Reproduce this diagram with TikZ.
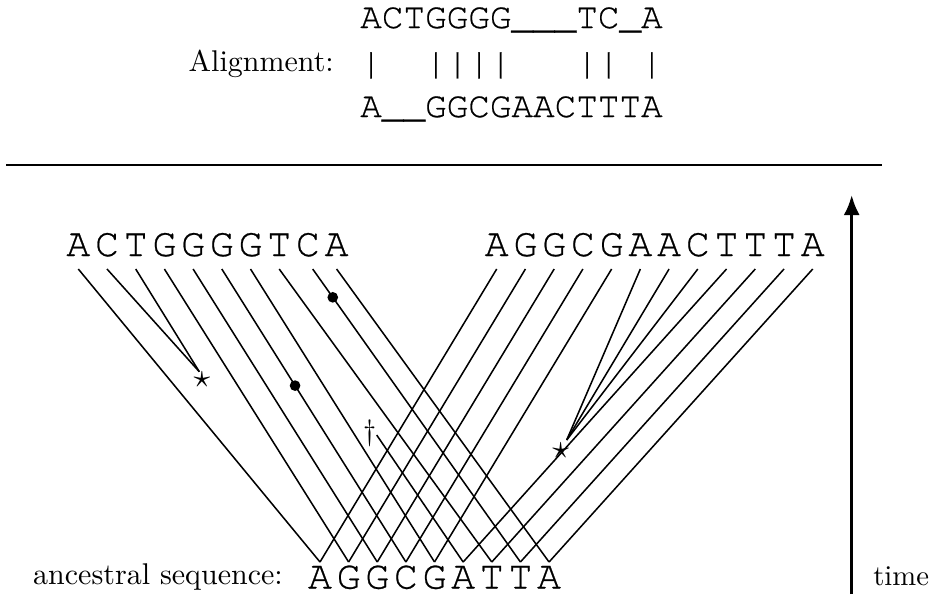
\documentclass[tikz,border=0pt]{standalone}
\usepackage{fontspec}
\usepackage{graphicx}
\newfontfamily\cur[FakeBold=0.6]{TeX Gyre Cursor}
\usetikzlibrary{arrows.meta}
\begin{document}
\begin{tikzpicture}[x=0.75pt,y=-0.75pt,
  seq/.style={inner sep=0pt,anchor=base,font=\cur\fontsize{30}{33}\selectfont},
  aln/.style={inner sep=0pt,anchor=base west,font=\cur\fontsize{27}{30}\selectfont},
  rm/.style={inner sep=0pt},
  lin/.style={line width=1.15pt},
  dot/.style={circle,fill=black,inner sep=0pt,minimum size=8pt}]
\useasboundingbox (0,0) rectangle (931,594);

% alignment block
\node[aln] (al1) at (360,28) {ACTGGGG\_\_\_TC\_A};
\node[aln] (al2) at (360,74) {|\hphantom{A}\hphantom{A}||||\hphantom{A}\hphantom{A}\hphantom{A}||\hphantom{A}|};
\node[aln] (al3) at (360,117) {A\_\_GGCGAACTTTA};
\node[rm,anchor=base east] (alab) at (334,71) {\scalebox{2.25}{Alignment:}};

% separating rule
\coordinate (r1) at (6,165);
\coordinate (r2) at (882,165);
\draw[lin] (r1) -- (r2);

% left descendant sequence
\foreach \c [count=\i] in {A,C,T,G,G,G,G,T,C,A}
  \node[seq] (L\i) at ({78.3+28.7*(\i-1)},256) {\c};
\foreach \x [count=\i] in {78.3,107,135.7,164.4,193.1,221.8,250.5,279.2,312.7,336.6}
  \coordinate (lt\i) at (\x,269);

% right descendant sequence
\foreach \c [count=\i] in {A,G,G,C,G,A,A,C,T,T,T,A}
  \node[seq] (R\i) at ({496.7+28.73*(\i-1)},256) {\c};
\foreach \i in {1,...,12}
  \coordinate (rt\i) at ({496.7+28.73*(\i-1)},269);

% ancestral sequence
\foreach \c [count=\i] in {A,G,G,C,G,A,T,T,A}
  \node[seq] (N\i) at ({320+28.63*(\i-1)},588.5) {\c};
\foreach \i in {1,...,9}
  \coordinate (ap\i) at ({320+28.63*(\i-1)},562);

\node[rm,anchor=base east] (anc) at (283,584) {\scalebox{2.25}{ancestral sequence:}};

% events
\coordinate (sl) at (199.3,371.7);
\node[rm] (starL) at (202,380) {\scalebox{2.5}{$\star$}};
\coordinate (sr) at (566.7,440);
\node[rm] (starR) at (560.7,450.7) {\scalebox{2.5}{$\star$}};
\coordinate (dl) at (376.7,435);
\node[rm] (dag) at (370,433.3) {\scalebox{2.2}{$\dagger$}};

% left lineages
\draw[lin] (lt1) -- (ap1);
\draw[lin] (lt2) -- (sl);
\draw[lin] (lt3) -- (sl);
\draw[lin] (lt4) -- (ap2);
\draw[lin] (lt5) -- (ap3);
\draw[lin] (lt6) -- node[pos=0.398,dot] (d1) {} (ap4);
\draw[lin] (lt7) -- (ap5);
\draw[lin] (dl) -- (ap6);
\draw[lin] (lt8) -- (ap7);
\draw[lin] (lt9) -- node[pos=0.0966,dot] (d2) {} (ap8);
\draw[lin] (lt10) -- (ap9);

% right lineages
\foreach \i in {1,...,5} \draw[lin] (rt\i) -- (ap\i);
\draw[lin] (rt6) -- (sr);
\draw[lin] (rt7) -- (sr);
\draw[lin] (rt8) -- (sr);
\draw[lin] (rt9) -- (ap6);
\draw[lin] (rt10) -- (ap7);
\draw[lin] (rt11) -- (ap8);
\draw[lin] (rt12) -- (ap9);

% time arrow
\coordinate (tb) at (851.7,594);
\coordinate (tt) at (851.7,195);
\draw[line width=2.25pt,-{Latex[length=15pt,width=12pt]}] (tb) -- (tt);
\node[rm,anchor=base west] (time) at (873,585) {\scalebox{2.15}{time}};
\end{tikzpicture}
\end{document}
